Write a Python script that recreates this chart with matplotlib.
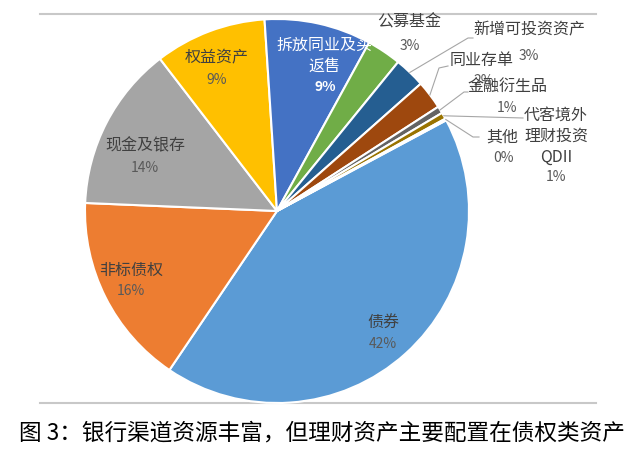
import numpy as np
import matplotlib.pyplot as plt

plt.rcParams['font.family'] = ['Noto Sans CJK SC', 'DejaVu Sans']

# asset allocation of bank wealth-management products (%)
names = ['债券', '非标债权', '现金及银存', '权益资产', '拆放同业及买\n返售', '公募基金',
         '新增可投资资产', '同业存单', '金融衍生品', '代客境外\n理财投资\nQDII', '其他']
values = [42.3, 16.2, 13.9, 9.4, 9.0, 2.9, 2.6, 2.4, 0.6, 0.55, 0.15]
colors = ['#5B9BD5', '#ED7D31', '#A5A5A5', '#FFC000', '#4472C4', '#70AD47',
          '#255E91', '#9E480E', '#636363', '#997300', '#264478']
title = '图 3：银行渠道资源丰富，但理财资产主要配置在债权类资产'

W, H = 640, 466
fig = plt.figure(figsize=(W / 100, H / 100), dpi=100)
ax = fig.add_axes([0, 0, 1, 1])

cx, cy, R = 277, H - 211, 192
wedges, _ = ax.pie(values, colors=colors, startangle=28.2, counterclock=False,
                   center=(cx, cy), radius=R, frame=True,
                   wedgeprops=dict(edgecolor='white', linewidth=1.5))
ax.set_xlim(0, W)
ax.set_ylim(0, H)
ax.set_aspect('equal')
ax.axis('off')

pcts = [f'{int(v + 0.5)}%' for v in values]

# label anchor positions in pixels (from top-left): name centre, pct centre
label_pos = [((383, 323), (383, 344)),
             ((131, 270), (131, 291)),
             ((145, 146), (145, 168)),
             ((217, 57), (217, 80)),
             ((324, 56), (325, 87)),
             ((409, 22), (410, 46)),
             ((529, 30), (529, 56)),
             ((482, 60), (484, 81)),
             ((507, 86), (507, 108)),
             ((556, 136), (556, 177)),
             ((502, 137), (503, 158))]
name_color = ['#404040'] * len(names)
name_color[4] = 'white'
pct_color = ['#595959'] * len(names)
pct_color[4] = 'white'

for i, (name, pct) in enumerate(zip(names, pcts)):
    (nx, ny), (px, py) = label_pos[i]
    weight = 'bold' if i == 4 else 'normal'
    ax.text(nx, H - ny, name, ha='center', va='center', fontsize=11.5,
            color=name_color[i], linespacing=1.3, zorder=5)
    ax.text(px, H - py, pct, ha='center', va='center', fontsize=10,
            color=pct_color[i], fontweight=weight, zorder=5)

# leader lines: start on the wedge edge, then to the label
leader_ends = {6: [(468, 38), (473, 38)],
               7: [(439, 68), (448, 66)],
               8: [(464, 92), (468, 92)],
               9: [(523, 118)],
               10: [(473, 137), (479, 137)]}
for i, pts in leader_ends.items():
    w = wedges[i]
    mid = np.deg2rad((w.theta1 + w.theta2) / 2)
    xs = [cx + R * np.cos(mid)] + [p[0] for p in pts]
    ys = [cy + R * np.sin(mid)] + [H - p[1] for p in pts]
    ax.plot(xs, ys, color='#A6A6A6', lw=0.8, zorder=4)

# frame lines above and below the chart
for yline in (14, 403):
    ax.plot([40, 596], [H - yline, H - yline], color='#C8C8C8', lw=1.5, zorder=0)

ax.text(322, H - 433, title, ha='center', va='center', fontsize=16.3, color='black')

fig.savefig('out.png', dpi=100)
